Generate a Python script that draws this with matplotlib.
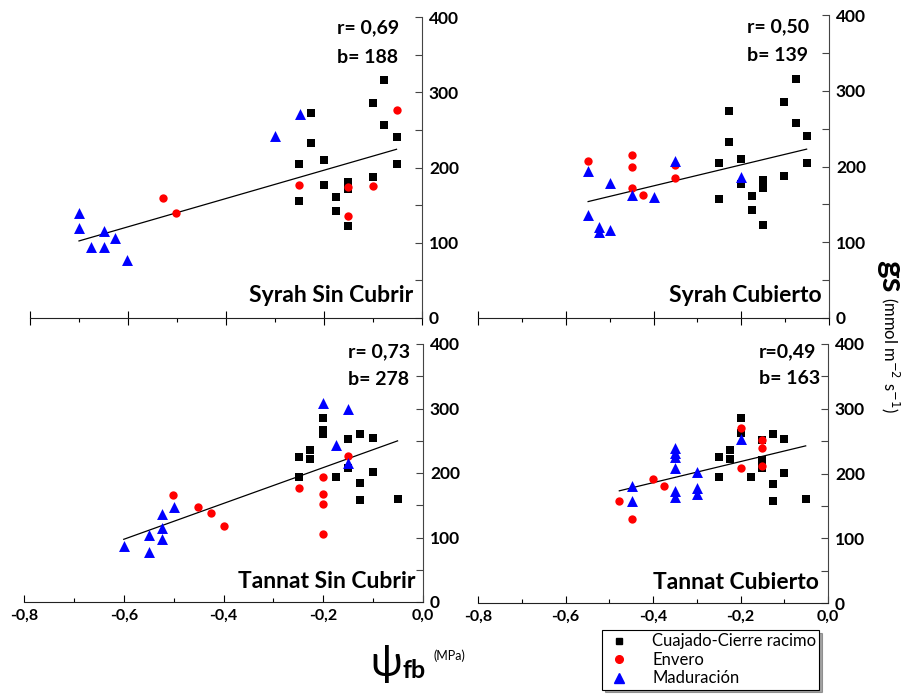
import matplotlib.pyplot as plt
from matplotlib.ticker import MultipleLocator, FuncFormatter
from matplotlib.lines import Line2D

plt.rcParams['font.family'] = ['Lato', 'DejaVu Sans']

# Syrah Sin Cubrir
ssc_cuaj_x = [-0.227, -0.227, -0.251, -0.251, -0.20, -0.20, -0.176, -0.176, -0.152, -0.152, -0.152,
              -0.101, -0.101, -0.077, -0.077, -0.052, -0.052]
ssc_cuaj_y = [273, 232, 204, 156, 210, 177, 161, 142, 181, 171, 122, 286, 188, 316, 257, 240, 205]
ssc_env_x = [-0.528, -0.502, -0.251, -0.152, -0.152, -0.101, -0.052]
ssc_env_y = [160, 140, 177, 174, 136, 175, 276]
ssc_mad_x = [-0.70, -0.70, -0.65, -0.675, -0.65, -0.627, -0.603, -0.30, -0.25]
ssc_mad_y = [140, 120, 115, 95, 95, 106, 77, 242, 271]

# Syrah Cubierto
sc_cuaj_x = [-0.25, -0.25, -0.227, -0.227, -0.20, -0.20, -0.176, -0.176, -0.151, -0.151, -0.151,
             -0.102, -0.102, -0.076, -0.076, -0.051, -0.051]
sc_cuaj_y = [205, 157, 273, 232, 210, 177, 161, 142, 182, 171, 123, 188, 285, 316, 257, 240, 205]
sc_env_x = [-0.549, -0.45, -0.45, -0.45, -0.424, -0.35, -0.35]
sc_env_y = [207, 215, 200, 172, 162, 202, 185]
sc_mad_x = [-0.549, -0.499, -0.45, -0.399, -0.35, -0.549, -0.524, -0.524, -0.499, -0.20]
sc_mad_y = [194, 178, 162, 160, 207, 136, 120, 114, 116, 186]

# Tannat Sin Cubrir
tsc_cuaj_x = [-0.249, -0.249, -0.226, -0.226, -0.20, -0.20, -0.20, -0.175, -0.15, -0.15,
              -0.126, -0.126, -0.126, -0.10, -0.10, -0.051]
tsc_cuaj_y = [225, 194, 236, 222, 286, 267, 261, 194, 252, 207, 261, 184, 158, 255, 202, 160]
tsc_env_x = [-0.501, -0.451, -0.426, -0.40, -0.249, -0.20, -0.20, -0.20, -0.20, -0.15]
tsc_env_y = [166, 147, 138, 118, 177, 194, 167, 152, 106, 227]
tsc_mad_x = [-0.60, -0.55, -0.55, -0.524, -0.524, -0.524, -0.50, -0.20, -0.15, -0.175, -0.15]
tsc_mad_y = [87, 104, 78, 137, 114, 98, 147, 308, 300, 244, 216]

# Tannat Cubierto
tc_cuaj_x = [-0.249, -0.249, -0.224, -0.224, -0.20, -0.20, -0.175, -0.151, -0.151, -0.151,
             -0.126, -0.126, -0.126, -0.10, -0.10, -0.051]
tc_cuaj_y = [225, 194, 236, 222, 286, 263, 194, 252, 221, 208, 261, 184, 158, 254, 201, 160]
tc_env_x = [-0.477, -0.449, -0.399, -0.374, -0.20, -0.20, -0.151, -0.151, -0.151]
tc_env_y = [157, 130, 191, 180, 271, 208, 251, 240, 211]
tc_mad_x = [-0.449, -0.449, -0.35, -0.35, -0.35, -0.35, -0.35, -0.35, -0.299, -0.299, -0.299, -0.20]
tc_mad_y = [181, 157, 240, 232, 225, 208, 173, 164, 202, 177, 169, 253]

titles = ["Syrah Sin Cubrir", "Syrah Cubierto", "Tannat Sin Cubrir", "Tannat Cubierto"]
r_labels = ["r= 0,69", "r= 0,50", "r= 0,73", "r=0,49"]
b_labels = ["b= 188", "b= 139", "b= 278", "b= 163"]
slopes = [188, 139, 278, 163]
intercepts = [234, 230, 264, 251]

phases = ["Cuajado-Cierre racimo", "Envero", "Maduración"]

panels = [
    (ssc_cuaj_x, ssc_cuaj_y, ssc_env_x, ssc_env_y, ssc_mad_x, ssc_mad_y),
    (sc_cuaj_x, sc_cuaj_y, sc_env_x, sc_env_y, sc_mad_x, sc_mad_y),
    (tsc_cuaj_x, tsc_cuaj_y, tsc_env_x, tsc_env_y, tsc_mad_x, tsc_mad_y),
    (tc_cuaj_x, tc_cuaj_y, tc_env_x, tc_env_y, tc_mad_x, tc_mad_y),
]

W, H = 910, 696
# panel boxes in pixels: left, top, right, bottom
boxes = [(30, 17, 422, 318), (478, 15, 829, 318), (24, 344, 423, 602), (478, 344, 828, 603)]
# text positions in axes fraction
r_pos = [(0.783, 0.963, 0.864), (0.766, 0.96, 0.865), (0.812, 0.969, 0.864), (0.803, 0.969, 0.865)]
t_pos = [(0.977, 0.053), (0.98, 0.053), (0.98, 0.054), (0.974, 0.054)]


def comma_fmt(v, pos):
    if abs(v) < 1e-9:
        v = 0.0
    return f"{v:.1f}".replace(".", ",")


fig = plt.figure(figsize=(W / 100, H / 100), dpi=100)

for i, data in enumerate(panels):
    l, t, r, b = boxes[i]
    ax = fig.add_axes([l / W, 1 - b / H, (r - l) / W, (b - t) / H])
    cx, cy, ex, ey, mx, my = data

    ax.scatter(cx, cy, marker='s', s=34, color='black', zorder=3, linewidths=0)
    ax.scatter(ex, ey, marker='o', s=36, color='#ff0000', zorder=3, linewidths=0)
    ax.scatter(mx, my, marker='^', s=62, color='#0000ff', zorder=3, linewidths=0)

    allx = cx + ex + mx
    x0, x1 = min(allx), max(allx)
    ax.plot([x0, x1], [intercepts[i] + slopes[i] * x0, intercepts[i] + slopes[i] * x1],
            color='black', lw=0.9, zorder=2)

    ax.set_xlim(-0.8, 0)
    ax.set_ylim(0, 400)

    for s in ['top', 'left']:
        ax.spines[s].set_visible(False)
    ax.spines['right'].set_color('#444444')
    ax.spines['bottom'].set_color('#222222')

    ax.yaxis.tick_right()
    ax.yaxis.set_major_locator(MultipleLocator(100))
    ax.yaxis.set_minor_locator(MultipleLocator(50))
    ax.tick_params(axis='y', which='both', direction='in', length=5, width=0.8,
                   labelsize=12.5, pad=5, colors='#444444', labelcolor='black')
    for lab in ax.get_yticklabels():
        lab.set_fontweight('bold')

    ax.xaxis.set_major_locator(MultipleLocator(0.2))
    ax.xaxis.set_minor_locator(MultipleLocator(0.1))
    if i < 2:
        ax.tick_params(axis='x', which='major', direction='inout', length=10, width=0.8,
                       labelbottom=False)
        ax.tick_params(axis='x', which='minor', direction='out', length=3, width=0.8)
    else:
        ax.xaxis.set_major_formatter(FuncFormatter(comma_fmt))
        ax.tick_params(axis='x', which='major', direction='in', length=5, width=0.8,
                       labelsize=11.5, pad=5)
        ax.tick_params(axis='x', which='minor', direction='in', length=3, width=0.8)
        for lab in ax.get_xticklabels():
            lab.set_fontweight('bold')

    rx, ry, by = r_pos[i]
    ax.text(rx, ry, r_labels[i], transform=ax.transAxes, fontsize=14, fontweight='bold',
            ha='left', va='center')
    ax.text(rx, by, b_labels[i], transform=ax.transAxes, fontsize=14, fontweight='bold',
            ha='left', va='center')
    tx, ty = t_pos[i]
    ax.text(tx, ty, titles[i], transform=ax.transAxes, fontsize=16.5, fontweight='bold',
            ha='right', va='baseline')

# y label (right side, reading downwards)
fig.text(891 / W, 1 - 276 / H, "gs", rotation=-90, fontsize=24, fontweight='bold',
         ha='center', va='center')
fig.text(890 / W, 1 - 355 / H, "(mmol m$^{-2}$ s$^{-1}$)", rotation=-90, fontsize=12,
         ha='center', va='center')

# x label
fig.text(386 / W, 1 - 664 / H, "ψ", fontsize=30, ha='center', va='center')
fig.text(414 / W, 1 - 670 / H, "fb", fontsize=18, fontweight='bold', ha='center', va='center')
fig.text(433 / W, 1 - 656 / H, "(MPa)", fontsize=9, ha='left', va='center')

handles = [
    Line2D([], [], ls='none', marker='s', ms=4.5, color='black'),
    Line2D([], [], ls='none', marker='o', ms=5.5, color='#ff0000'),
    Line2D([], [], ls='none', marker='^', ms=6.5, color='#0000ff'),
]
leg = fig.legend(handles, phases, loc='upper left', bbox_to_anchor=(602 / W, 1 - 630 / H),
                 frameon=True, fancybox=False, shadow=True, fontsize=12,
                 handlelength=1.6, handletextpad=1.2, borderpad=0.2, labelspacing=0.15,
                 borderaxespad=0)
leg.get_frame().set_edgecolor('black')
leg.get_frame().set_linewidth(0.8)

fig.savefig("out.png", dpi=100)
